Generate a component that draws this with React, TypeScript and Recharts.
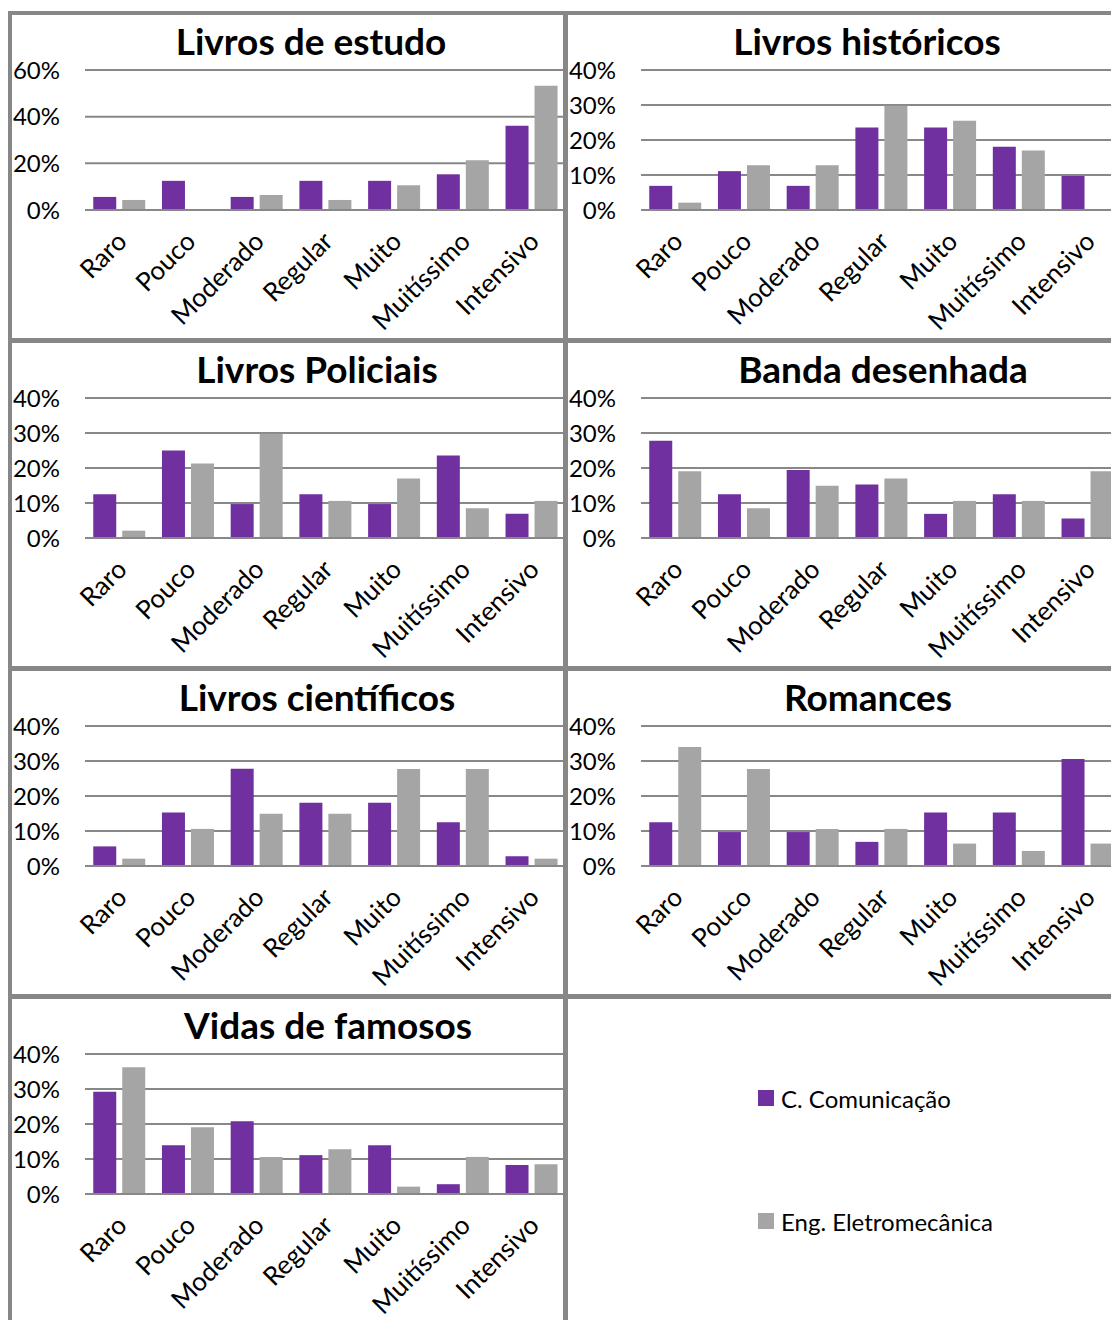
import React from 'react';
import { BarChart, Bar, XAxis, YAxis, CartesianGrid } from 'recharts';

// Reading frequency by book genre, two student groups
const categories = ['Raro', 'Pouco', 'Moderado', 'Regular', 'Muito', 'Muitíssimo', 'Intensivo'];
const seriesNames = ['C. Comunicação', 'Eng. Eletromecânica'];

const ticks60 = [0, 20, 40, 60];
const ticks40 = [0, 10, 20, 30, 40];

const estudoCom = [5.6, 12.5, 5.6, 12.5, 12.5, 15.3, 36.1];
const estudoEng = [4.3, 0, 6.4, 4.3, 10.6, 21.3, 53.2];

const historicosCom = [6.9, 11.1, 6.9, 23.6, 23.6, 18.1, 9.7];
const historicosEng = [2.1, 12.8, 12.8, 29.8, 25.5, 17.0, 0];

const policiaisCom = [12.5, 25.0, 9.7, 12.5, 9.7, 23.6, 6.9];
const policiaisEng = [2.1, 21.3, 29.8, 10.6, 17.0, 8.5, 10.6];

const bandaCom = [27.8, 12.5, 19.4, 15.3, 6.9, 12.5, 5.6];
const bandaEng = [19.1, 8.5, 14.9, 17.0, 10.6, 10.6, 19.1];

const cientificosCom = [5.6, 15.3, 27.8, 18.1, 18.1, 12.5, 2.8];
const cientificosEng = [2.1, 10.6, 14.9, 14.9, 27.7, 27.7, 2.1];

const romancesCom = [12.5, 9.7, 9.7, 6.9, 15.3, 15.3, 30.6];
const romancesEng = [34.0, 27.7, 10.6, 10.6, 6.4, 4.3, 6.4];

const famososCom = [29.2, 13.9, 20.8, 11.1, 13.9, 2.8, 8.3];
const famososEng = [36.2, 19.1, 10.6, 12.8, 2.1, 10.6, 8.5];

const titles = [
  'Livros de estudo',
  'Livros históricos',
  'Livros Policiais',
  'Banda desenhada',
  'Livros científicos',
  'Romances',
  'Vidas de famosos',
];
const comValues = [estudoCom, historicosCom, policiaisCom, bandaCom, cientificosCom, romancesCom, famososCom];
const engValues = [estudoEng, historicosEng, policiaisEng, bandaEng, cientificosEng, romancesEng, famososEng];
const yTicks = [ticks60, ticks40, ticks40, ticks40, ticks40, ticks40, ticks40];

const COLORS = ['#7030A0', '#A5A5A5'];
const GRID = '#888888';
const BORDER = '#878787';
const FONT = 'Lato, "Open Sans", sans-serif';

const COL_X = [9, 565];
const ROW_Y = [11, 339, 667, 995];
const CHART_W = 560;
const CHART_H = 332;
// title centre (x) for each panel
const TITLE_X = [311, 867, 317, 883, 317, 868, 328];

const CategoryTick = (props: any) => {
  const { x, y, payload } = props;
  return (
    <g transform={`translate(${x + 9},${y + 33})`}>
      <text
        textAnchor="end"
        transform="rotate(-45)"
        fontSize={26}
        fill="#000"
        fontFamily={FONT}
      >
        {payload.value}
      </text>
    </g>
  );
};

const Panel: React.FC<{ index: number }> = ({ index }) => {
  const col = index % 2;
  const row = Math.floor(index / 2);
  const left = COL_X[col];
  const top = ROW_Y[row];
  const ticks = yTicks[index];
  const data = categories.map((name, i) => ({
    name,
    com: comValues[index][i],
    eng: engValues[index][i],
  }));

  return (
    <>
      <div style={{ position: 'absolute', left, top, width: CHART_W, height: CHART_H }}>
        <BarChart
          width={CHART_W}
          height={CHART_H}
          data={data}
          margin={{ top: 59, right: 3, bottom: 0, left: 0 }}
          barCategoryGap="12%"
          barGap={6}
        >
          <CartesianGrid vertical={false} stroke={GRID} strokeWidth={2} />
          <XAxis
            dataKey="name"
            interval={0}
            height={133}
            axisLine={{ stroke: GRID, strokeWidth: 2 }}
            tickLine={false}
            tickSize={0}
            tickMargin={0}
            tick={<CategoryTick />}
          />
          <YAxis
            type="number"
            width={76}
            domain={[0, ticks[ticks.length - 1]]}
            ticks={ticks}
            tickFormatter={(v: number) => `${v}%`}
            axisLine={false}
            tickLine={false}
            tickSize={0}
            tickMargin={25}
            tick={{ fontSize: 24, fill: '#000', fontFamily: FONT }}
          />
          <Bar dataKey="com" name={seriesNames[0]} fill={COLORS[0]} isAnimationActive={false} />
          <Bar dataKey="eng" name={seriesNames[1]} fill={COLORS[1]} isAnimationActive={false} />
        </BarChart>
      </div>
      <div
        style={{
          position: 'absolute',
          left: TITLE_X[index] - 250,
          top: top + 11,
          width: 500,
          textAlign: 'center',
          fontSize: 37,
          lineHeight: '37px',
          fontWeight: 700,
          color: '#000',
          whiteSpace: 'nowrap',
        }}
      >
        {titles[index]}
      </div>
    </>
  );
};

const Legend: React.FC = () => (
  <>
    {seriesNames.map((name, i) => (
      <div
        key={name}
        style={{
          position: 'absolute',
          left: 758,
          top: 1098 + i * 123 - 14,
          height: 28,
          display: 'flex',
          alignItems: 'center',
          fontSize: 24,
          color: '#000',
          whiteSpace: 'nowrap',
        }}
      >
        <span style={{ width: 16, height: 16, background: COLORS[i], marginRight: 7, display: 'inline-block' }} />
        {name}
      </div>
    ))}
  </>
);

const Lines: React.FC = () => {
  const line = (style: React.CSSProperties, key: string) => (
    <div key={key} style={{ position: 'absolute', background: BORDER, ...style }} />
  );
  return (
    <>
      {line({ left: 8, top: 11, width: 4, height: 1320 }, 'v0')}
      {line({ left: 563, top: 11, width: 5, height: 1320 }, 'v1')}
      {line({ left: 8, top: 11, width: 1111, height: 4 }, 'h0')}
      {line({ left: 8, top: 338, width: 1111, height: 5 }, 'h1')}
      {line({ left: 8, top: 666, width: 1111, height: 5 }, 'h2')}
      {line({ left: 8, top: 994, width: 1111, height: 5 }, 'h3')}
    </>
  );
};

export default function App() {
  return (
    <div
      style={{
        position: 'absolute',
        left: 0,
        top: 0,
        width: 1111,
        height: 1320,
        overflow: 'hidden',
        background: '#fff',
        fontFamily: FONT,
      }}
    >
      {titles.map((t, i) => (
        <Panel key={t} index={i} />
      ))}
      <Legend />
      <Lines />
    </div>
  );
}
